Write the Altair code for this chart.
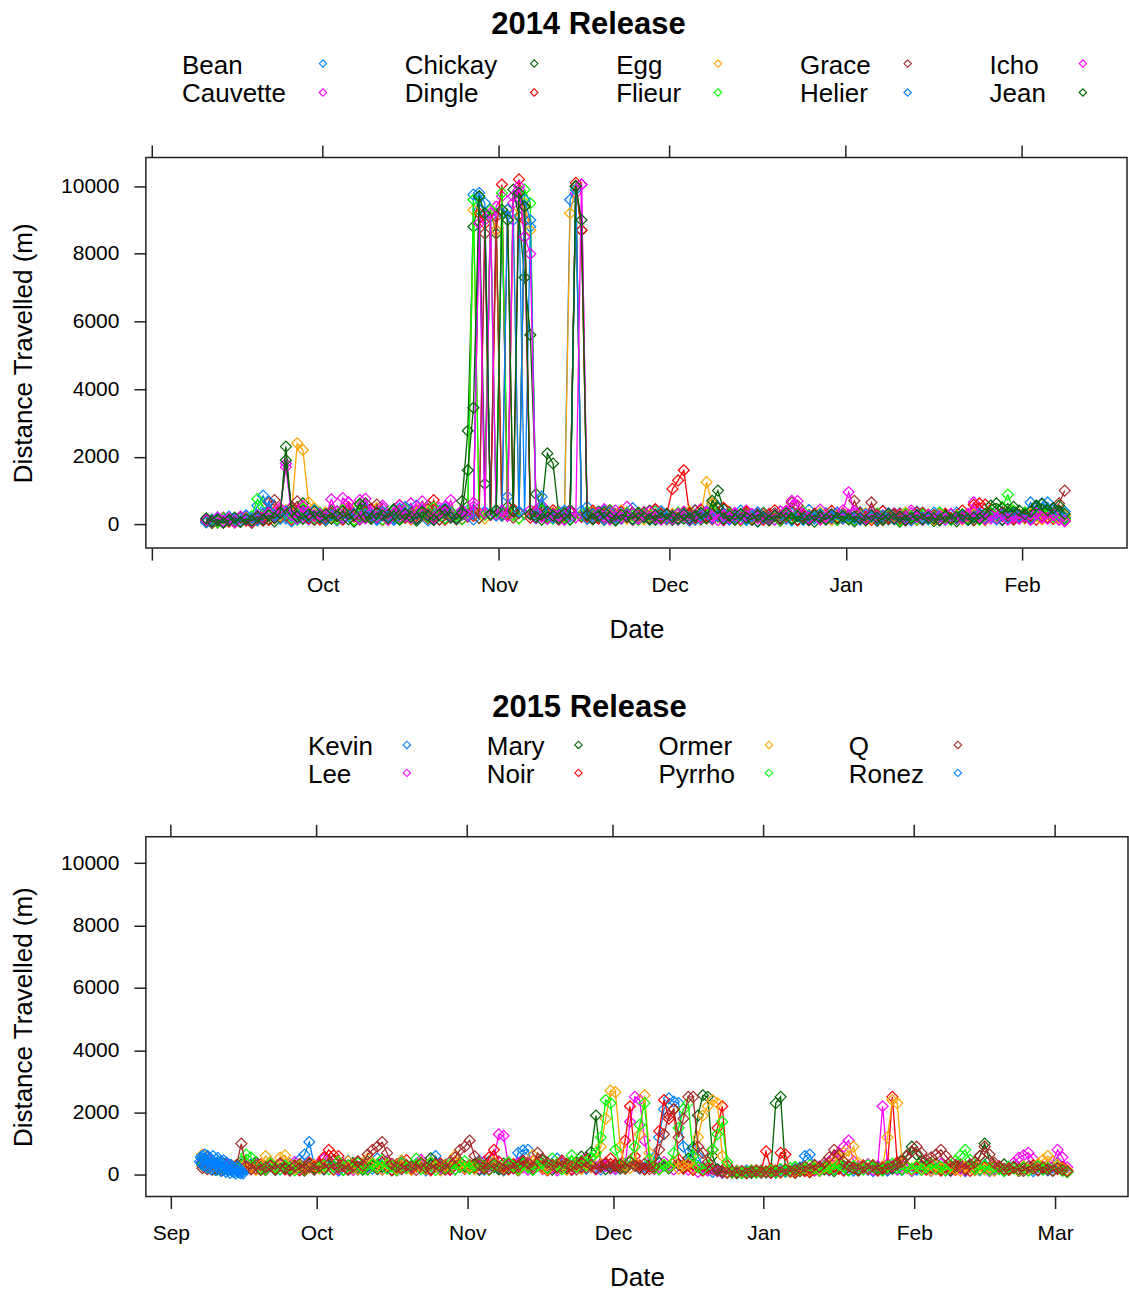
import altair as alt
import pandas as pd

# ---------------- 2014 release: daily distance (m), 2014-09-10 .. 2015-02-08 ----------------
names_2014 = ["Bean", "Cauvette", "Chickay", "Dingle", "Egg", "Flieur", "Grace", "Helier", "Icho", "Jean"]

bean = [120, 60, 210, 90, 150, 70, 180, 240, 130, 560, 850, 420, 310, 260, 180, 90, 350, 280, 150, 420, 230,
        180, 340, 120, 450, 260, 90, 310, 520, 240, 160, 380, 210, 130, 470, 290, 180, 560, 340, 120, 250, 410, 190, 330, 150, 280, 420, 9750, 9300, 380, 9100, 260,
        9200, 820, 410, 9600, 300, 8800, 180, 420, 260, 310, 150, 380, 9600, 10000, 300, 520, 240, 180, 410, 290, 130, 360, 220, 480, 170, 310, 260, 140, 390, 210,
        160, 320, 250, 110, 420, 280, 190, 350, 520, 230, 140, 300, 410, 180, 260, 90, 340, 220, 150, 380, 270, 120, 310, 200, 430, 170, 250, 330, 140, 280, 190,
        240, 130, 360, 210, 290, 170, 400, 150, 260, 330, 120, 220, 380, 190, 270, 110, 300, 240, 160, 350, 200, 130, 280, 420, 180, 250, 310, 150, 220, 380, 260,
        320, 650, 410, 230, 180, 290, 360, 210]
cauvette = [90, 150, 60, 200, 110, 170, 80, 230, 140, 190, 310, 260, 180, 420, 1800, 520, 340, 210, 160, 280, 190,
            330, 210, 150, 780, 640, 290, 720, 180, 410, 250, 560, 130, 340, 220, 470, 620, 190, 380, 260, 150, 490, 310, 720, 180, 420, 260, 530, 350, 9000, 280, 9400,
            9700, 360, 9500, 9900, 8500, 420, 190, 560, 310, 240, 380, 150, 420, 9800, 10050, 270, 340, 180, 450, 230, 310, 160, 520, 280, 190, 360, 240, 410, 170, 300,
            220, 140, 380, 260, 170, 450, 310, 190, 240, 120, 360, 280, 150, 410, 230, 320, 180, 270, 140, 390, 210, 160, 330, 250, 120, 290, 440, 200, 170, 350, 230,
            190, 310, 150, 240, 380, 120, 270, 200, 330, 160, 250, 410, 140, 290, 220, 170, 350, 230, 130, 280, 190, 320, 650, 410, 250, 180, 300, 140, 260, 210, 170,
            240, 130, 310, 180, 420, 260, 150, 90]
chickay = [150, 40, 110, 70, 130, 60, 90, 180, 50, 120, 210, 160, 90, 250, 2300, 340, 180, 620, 290, 140, 230,
           120, 410, 280, 160, 350, 90, 240, 620, 190, 310, 140, 270, 450, 180, 230, 360, 110, 290, 540, 200, 150, 380, 260, 170, 690, 2770, 8800, 9700, 1200, 9300, 8600,
           300, 520, 9900, 9100, 7300, 5600, 900, 450, 2100, 1800, 300, 180, 420, 10000, 8700, 260, 150, 380, 210, 310, 120, 270, 190, 340, 160, 230, 410, 140, 280, 200,
           130, 290, 170, 340, 210, 150, 380, 620, 1000, 450, 180, 260, 120, 310, 200, 90, 240, 170, 330, 110, 260, 190, 140, 300, 220, 80, 270, 160, 210, 130, 250,
           170, 90, 230, 140, 300, 110, 200, 160, 260, 80, 190, 240, 130, 310, 170, 100, 220, 280, 150, 90, 240, 190, 120, 270, 160, 340, 210, 130, 450, 280, 190,
           350, 240, 520, 610, 380, 260, 410, 170]
dingle = [70, 130, 50, 190, 80, 140, 220, 110, 60, 170, 240, 130, 380, 200, 290, 150, 420, 310, 180, 260, 140,
          260, 180, 390, 140, 510, 230, 170, 320, 460, 210, 130, 280, 190, 570, 340, 150, 260, 410, 180, 720, 290, 140, 380, 230, 160, 310, 250, 9200, 8900, 280, 8700,
          10050, 300, 460, 10200, 9000, 200, 380, 250, 170, 420, 290, 140, 360, 10100, 8700, 230, 410, 180, 300, 150, 260, 390, 210, 130, 340, 270, 180, 450, 220, 310,
          1050, 1300, 1600, 300, 180, 420, 260, 150, 330, 490, 210, 140, 280, 370, 190, 250, 130, 310, 420, 170, 240, 350, 120, 280, 190, 320, 150, 260, 400, 210, 170,
          280, 150, 340, 220, 130, 260, 390, 180, 240, 310, 120, 200, 350, 170, 290, 230, 140, 320, 190, 260, 410, 150, 580, 620, 590, 300, 180, 240, 350, 160, 220,
          190, 280, 140, 330, 210, 160, 240, 120]
egg = [100, 60, 170, 90, 210, 130, 80, 190, 150, 240, 120, 310, 180, 260, 420, 340, 2400, 2200, 650, 480, 290,
       350, 210, 170, 440, 280, 130, 360, 250, 190, 480, 320, 150, 270, 400, 210, 160, 340, 520, 230, 180, 310, 440, 260, 150, 370, 230, 9300, 310, 180, 9300, 8700,
       240, 380, 9200, 180, 9500, 8700, 410, 260, 190, 340, 220, 150, 9200, 10000, 290, 180, 360, 240, 130, 300, 210, 420, 170, 260, 330, 150, 280, 200, 370, 240,
       310, 180, 250, 390, 140, 280, 1250, 620, 230, 170, 340, 210, 130, 290, 180, 360, 250, 120, 300, 200, 170, 330, 240, 140, 280, 190, 350, 220, 130, 260, 310,
       200, 140, 270, 330, 180, 240, 120, 290, 210, 160, 350, 230, 150, 280, 190, 130, 310, 220, 170, 260, 140, 240, 300, 180, 120, 270, 210, 350, 160, 230, 290,
       180, 310, 240, 150, 420, 270, 190, 260]
flieur = [80, 140, 60, 180, 120, 90, 210, 160, 250, 750, 520, 380, 240, 170, 310, 200, 140, 460, 280, 190, 350,
          220, 310, 160, 420, 270, 130, 580, 340, 190, 260, 150, 380, 230, 170, 450, 290, 140, 330, 210, 500, 260, 180, 390, 240, 150, 310, 9600, 200, 280, 9300, 350,
          9800, 400, 270, 180, 9900, 9500, 300, 410, 230, 160, 350, 210, 140, 9900, 260, 380, 190, 300, 150, 430, 220, 170, 340, 260, 130, 290, 210, 380, 160, 250,
          180, 350, 220, 140, 300, 260, 170, 410, 230, 150, 320, 190, 260, 130, 280, 210, 340, 160, 240, 120, 300, 190, 260, 380, 150, 220, 310, 170, 240, 130, 280,
          210, 150, 290, 180, 240, 330, 140, 260, 200, 120, 310, 230, 170, 280, 150, 220, 360, 190, 130, 250, 300, 170, 230, 140, 280, 350, 210, 520, 880, 410, 260,
          340, 190, 270, 450, 380, 220, 310, 160]
grace = [110, 70, 160, 50, 140, 90, 200, 130, 60, 180, 110, 640, 720, 380, 260, 490, 680, 310, 220, 150, 280,
         190, 340, 250, 160, 430, 280, 140, 370, 220, 590, 310, 170, 260, 410, 190, 330, 150, 270, 460, 210, 140, 380, 250, 170, 310, 230, 420, 190, 8600, 300, 9100,
         380, 9300, 200, 340, 9400, 290, 420, 250, 180, 310, 140, 270, 390, 10000, 220, 170, 330, 260, 150, 410, 230, 190, 300, 140, 260, 350, 180, 230, 310, 150,
         270, 190, 340, 150, 410, 230, 180, 300, 250, 140, 360, 210, 170, 290, 130, 240, 320, 190, 260, 150, 380, 640, 560, 240, 170, 300, 210, 140, 270, 190, 330,
         240, 700, 330, 180, 650, 290, 150, 220, 310, 170, 260, 130, 240, 350, 190, 280, 140, 230, 300, 160, 210, 270, 130, 320, 190, 250, 170, 360, 220, 140, 280,
         210, 160, 340, 250, 190, 480, 620, 1000]
helier = [60, 120, 180, 80, 230, 150, 100, 270, 190, 130, 320, 680, 250, 170, 390, 280, 160, 340, 230, 410, 200,
          150, 270, 380, 190, 240, 320, 170, 450, 280, 130, 360, 230, 180, 300, 520, 210, 160, 390, 250, 140, 310, 470, 220, 180, 340, 260, 150, 9800, 9500, 300, 420,
          260, 9300, 9000, 380, 9600, 9000, 290, 820, 350, 190, 270, 410, 230, 9900, 400, 170, 300, 250, 140, 360, 210, 180, 290, 150, 330, 220, 140, 270, 380, 190,
          230, 150, 310, 200, 140, 270, 380, 180, 250, 330, 160, 220, 290, 130, 240, 360, 190, 150, 280, 210, 170, 320, 240, 130, 260, 190, 300, 150, 230, 350, 180,
          260, 180, 140, 300, 220, 170, 260, 330, 150, 240, 190, 120, 280, 210, 160, 350, 230, 140, 290, 180, 260, 130, 220, 310, 170, 240, 150, 280, 200, 330, 240,
          280, 190, 350, 620, 650, 420, 260, 380]
icho = [140, 80, 200, 110, 170, 60, 230, 150, 90, 260, 180, 330, 210, 480, 1700, 290, 180, 540, 360, 240, 310,
        260, 740, 380, 210, 650, 290, 170, 760, 340, 220, 480, 150, 310, 560, 240, 190, 420, 680, 260, 170, 340, 530, 210, 160, 390, 270, 640, 8900, 330, 9200, 300,
        410, 250, 9700, 10000, 8500, 8000, 360, 220, 170, 300, 250, 140, 380, 210, 10050, 290, 180, 340, 230, 150, 410, 190, 270, 320, 160, 240, 380, 210, 140, 290,
        170, 310, 240, 150, 280, 200, 360, 230, 130, 270, 190, 340, 160, 250, 310, 180, 230, 140, 290, 210, 400, 700, 690, 320, 180, 260, 150, 230, 300, 170, 420,
        950, 380, 210, 160, 290, 230, 140, 310, 190, 250, 170, 330, 220, 130, 270, 190, 240, 150, 310, 200, 170, 280, 360, 230, 150, 260, 190, 320, 140, 230, 180,
        260, 150, 330, 220, 170, 290, 140, 110]
jean = [180, 90, 140, 50, 120, 200, 70, 160, 110, 230, 150, 270, 190, 340, 1900, 410, 230, 160, 290, 380, 210,
        300, 170, 240, 390, 150, 280, 610, 220, 160, 340, 270, 190, 420, 140, 310, 230, 180, 370, 250, 130, 290, 430, 200, 160, 350, 1600, 3450, 9700, 9200, 300, 420,
        9300, 9000, 400, 9800, 9400, 310, 220, 140, 380, 260, 190, 330, 150, 10000, 9000, 280, 170, 240, 360, 200, 130, 290, 230, 170, 340, 210, 150, 270, 190, 310,
        220, 160, 290, 180, 250, 340, 200, 700, 480, 170, 260, 140, 310, 200, 150, 280, 230, 120, 260, 190, 330, 160, 240, 180, 130, 270, 210, 150, 300, 180, 240,
        150, 230, 180, 120, 260, 200, 140, 310, 170, 230, 130, 190, 270, 150, 210, 180, 120, 250, 160, 220, 290, 140, 200, 170, 310, 560, 620, 480, 350, 520, 410,
        300, 380, 560, 600, 420, 480, 550, 310]
series_2014 = [bean, cauvette, chickay, dingle, egg, flieur, grace, helier, icho, jean]

# ---------------- 2015 release: daily distance (m), 2015-09-07 .. 2016-03-03 ----------------
names_2015 = ["Kevin", "Lee", "Mary", "Noir", "Ormer", "Pyrrho", "Q", "Ronez"]

kevin = [520, 610, 430, 380, 250, 310, 180, 220, 140, 260, 330, 190, 280, 150, 410, 230, 170, 300, 360, 210, 480, 650, 1050, 320,
         240, 170, 390, 260, 130, 300, 450, 210, 160, 340, 270, 190, 520, 380, 230, 150, 310, 420, 260, 180, 350, 240, 140, 290, 600, 330, 210, 170, 400, 260, 190,
         310, 220, 450, 160, 280, 380, 200, 140, 350, 260, 700, 780, 800, 180, 420, 250, 160, 330, 520, 230, 280, 150, 410, 260, 190, 360, 240, 170, 300, 210,
         180, 260, 350, 420, 300, 190, 240, 310, 560, 1200, 2100, 2450, 2350, 2300, 900, 420, 800, 600, 230, 140, 90, 120, 60, 80, 110, 50, 90, 130, 70, 100, 60,
         80, 120, 60, 150, 90, 110, 180, 240, 600, 650, 310, 180, 250, 140, 200, 330, 170, 260, 130, 220, 290, 160, 110, 240, 180, 130, 270, 190, 150, 230, 120,
         160, 250, 190, 120, 300, 210, 140, 280, 170, 230, 110, 260, 190, 140, 320, 200, 150, 240, 120, 180, 270, 130, 210, 160, 110, 250, 180, 140, 230,
         380, 210, 120]
lee = [430, 560, 310, 280, 190, 350, 240, 160, 420, 290, 180, 380, 270, 150, 340, 220, 300, 190, 260, 410, 170, 230, 310, 200,
       380, 500, 460, 290, 180, 350, 270, 150, 410, 230, 190, 330, 260, 170, 450, 280, 140, 360, 220, 190, 310, 480, 250, 160, 340, 210, 280, 150, 390, 240, 180,
       260, 340, 190, 420, 280, 530, 1300, 1250, 310, 200, 370, 240, 160, 450, 290, 180, 330, 230, 140, 380, 260, 190, 310, 420, 560, 240, 170, 350, 280, 210,
       190, 330, 260, 1700, 2500, 2400, 1100, 300, 180, 240, 410, 280, 170, 350, 220, 160, 300, 90, 230, 140, 180, 110, 70, 100, 60, 130, 80, 50, 110, 90, 70,
       90, 60, 120, 80, 140, 100, 70, 160, 220, 180, 130, 260, 300, 420, 560, 700, 900, 1100, 430, 280, 190, 340, 150, 280, 2200, 350, 240, 160, 300, 210, 130,
       240, 160, 290, 130, 210, 350, 180, 120, 260, 190, 140, 310, 220, 170, 250, 110, 200, 280, 150, 230, 380, 540, 620, 700, 500, 260, 180, 310, 420,
       800, 560, 240]
mary = [380, 250, 310, 160, 420, 200, 280, 140, 330, 190, 260, 410, 170, 230, 300, 150, 360, 220, 180, 290, 240, 130, 350, 210,
        270, 180, 340, 460, 230, 150, 300, 380, 210, 160, 420, 290, 180, 250, 340, 140, 310, 450, 220, 170, 280, 360, 190, 530, 260, 150, 320, 240, 180, 410, 270,
        200, 330, 150, 280, 420, 240, 170, 360, 210, 290, 140, 380, 250, 180, 310, 460, 220, 160, 340, 270, 200, 430, 300, 580, 350, 720, 1900, 280, 180, 240,
        310, 190, 260, 420, 350, 230, 170, 300, 250, 380, 290, 200, 410, 330, 260, 520, 880, 1900, 2550, 2500, 600, 180, 120, 70, 90, 50, 110, 80, 60, 100, 130,
        70, 120, 2300, 2500, 140, 90, 60, 110, 150, 80, 200, 130, 170, 240, 110, 190, 280, 150, 220, 130, 260, 180, 300, 210, 140, 250, 190, 330, 480, 620, 900,
        640, 420, 300, 210, 350, 180, 260, 140, 230, 310, 170, 280, 200, 600, 1000, 450, 260, 190, 330, 150, 240, 120, 200, 160, 290, 140, 220, 180, 130,
        210, 150, 90]
noir = [290, 180, 350, 230, 140, 270, 200, 310, 160, 380, 240, 190, 330, 150, 280, 210, 360, 170, 250, 300, 140, 220, 390, 260,
        340, 560, 800, 620, 600, 280, 190, 320, 430, 250, 170, 360, 220, 400, 290, 150, 330, 240, 470, 180, 260, 390, 210, 140, 300, 360, 230, 170, 420, 280, 200,
        310, 240, 380, 190, 560, 800, 420, 260, 170, 340, 230, 450, 290, 180, 360, 250, 140, 310, 220, 400, 270, 160, 350, 230, 480, 300, 190, 260, 380, 520,
        340, 260, 1100, 2200, 600, 300, 180, 260, 210, 1400, 2400, 1800, 2100, 500, 190, 280, 150, 240, 130, 220, 800, 1500, 2200, 300, 80, 110, 60, 90, 140, 70, 120,
        750, 180, 120, 700, 650, 100, 80, 140, 110, 90, 170, 130, 220, 160, 250, 190, 130, 280, 210, 160, 300, 180, 240, 130, 200, 280, 2500, 400, 190, 250, 170,
        220, 300, 160, 240, 180, 130, 270, 200, 150, 330, 190, 120, 260, 180, 230, 150, 280, 210, 140, 190, 250, 130, 220, 170, 300, 150, 240, 190, 130,
        180, 240, 110]
ormer = [650, 480, 320, 270, 180, 240, 310, 190, 260, 350, 220, 150, 300, 600, 400, 250, 550, 620, 340, 200, 280, 170, 230, 310,
         190, 270, 360, 150, 240, 310, 430, 200, 170, 290, 520, 380, 230, 160, 340, 270, 190, 450, 210, 150, 320, 250, 180, 410, 280, 140, 300, 230, 620, 350, 200,
         260, 180, 330, 240, 150, 410, 280, 190, 350, 230, 160, 300, 250, 630, 380, 210, 170, 290, 340, 200, 150, 420, 270, 180, 360, 230, 500, 900, 1800, 2700,
         2650, 900, 300, 210, 380, 1300, 2550, 700, 250, 180, 320, 240, 410, 190, 280, 360, 220, 1200, 1900, 2200, 2400, 2300, 600, 90, 60, 120, 80, 50, 100, 140, 70,
         110, 80, 130, 60, 150, 90, 120, 170, 210, 140, 260, 180, 230, 300, 420, 550, 700, 600, 900, 380, 250, 190, 310, 170, 260, 1200, 2400, 2300, 400, 220, 160,
         280, 190, 240, 130, 310, 210, 160, 270, 180, 120, 250, 200, 140, 300, 170, 230, 120, 260, 190, 150, 210, 140, 280, 170, 220, 350, 480, 600, 420,
         310, 200, 150]
pyrrho = [310, 220, 170, 380, 250, 190, 140, 280, 420, 650, 560, 300, 210, 160, 350, 240, 180, 290, 230, 140, 330, 200, 260, 170,
          240, 310, 180, 260, 420, 150, 290, 230, 370, 200, 160, 330, 250, 480, 190, 270, 140, 360, 220, 300, 510, 180, 240, 390, 150, 280, 210, 340, 170, 250, 430,
          190, 280, 350, 220, 160, 310, 240, 170, 400, 260, 190, 330, 230, 150, 290, 370, 210, 520, 270, 180, 340, 620, 250, 450, 300, 560, 700, 1200, 2400, 2300,
          800, 300, 200, 450, 900, 1600, 2300, 500, 220, 170, 310, 260, 700, 1500, 2100, 2300, 600, 250, 180, 300, 800, 1300, 1700, 400, 70, 110, 50, 90, 130, 60, 100,
          90, 140, 70, 180, 120, 210, 250, 160, 230, 300, 190, 140, 270, 220, 170, 320, 240, 130, 280, 200, 160, 310, 230, 180, 140, 260, 350, 210, 170, 240, 190,
          280, 150, 230, 350, 190, 260, 140, 300, 450, 620, 800, 480, 210, 170, 290, 140, 230, 180, 120, 260, 200, 150, 240, 130, 190, 280, 160, 220, 140,
          230, 120, 80]
q_fish = [210, 330, 160, 270, 140, 380, 220, 300, 1000, 250, 180, 310, 150, 240, 290, 170, 360, 200, 130, 270, 340, 190, 250, 160,
          280, 200, 350, 170, 240, 320, 150, 260, 420, 300, 650, 800, 900, 1050, 700, 350, 240, 180, 310, 260, 150, 380, 230, 190, 340, 270, 160, 420, 550, 800, 900,
          1100, 600, 310, 220, 180, 360, 250, 170, 330, 210, 290, 450, 380, 260, 700, 520, 390, 310, 240, 460, 350, 280, 170, 400, 230, 310, 190, 260, 350, 220,
          260, 330, 190, 410, 280, 220, 350, 180, 260, 800, 1300, 1900, 2100, 1200, 1800, 2500, 2500, 900, 700, 400, 180, 130, 90, 60, 110, 70, 120, 50, 90, 140, 80,
          100, 60, 130, 80, 170, 110, 150, 200, 260, 180, 310, 240, 380, 560, 800, 650, 420, 290, 210, 170, 250, 190, 300, 150, 230, 180, 260, 350, 420, 600, 750,
          900, 700, 480, 560, 650, 800, 600, 420, 310, 250, 190, 330, 400, 600, 900, 650, 380, 260, 190, 150, 230, 180, 120, 260, 200, 150, 240, 170, 130,
          210, 160, 110]
# Ronez: 4-hourly fixes from 2015-09-07 00:00
ronez = [420, 560, 380, 610, 290, 500, 650, 340, 470, 220, 580, 400, 310, 520, 180, 450, 600, 260,
         380, 150, 490, 270, 540, 330, 200, 410, 120, 350, 240, 460, 170, 290, 90, 380, 210, 140,
         250, 60, 320, 180, 110, 230, 80, 190, 40, 150, 260, 120, 70, 180, 50, 130, 90, 40]
series_2015 = [kevin, lee, mary, noir, ormer, pyrrho, q_fish]

# month-start tick positions (year, month)
ticks_2014_ym = [(2014, 9), (2014, 10), (2014, 11), (2014, 12), (2015, 1), (2015, 2)]
ticks_2015_ym = [(2015, 9), (2015, 10), (2015, 11), (2015, 12), (2016, 1), (2016, 2), (2016, 3)]
y_ticks = [0, 2000, 4000, 6000, 8000, 10000]

# ---------------- styling ----------------
FONT = "Liberation Sans"
lattice_cols = ["#0080ff", "#ff00ff", "#006400", "#ff0000", "#ffa500", "#00ff00", "#a52a2a"]
cols_2014 = [lattice_cols[i % 7] for i in range(len(names_2014))]
cols_2015 = [lattice_cols[i % 7] for i in range(len(names_2015))]
INK = "#222222"

char_w = {" ": 278, "B": 667, "C": 722, "D": 722, "E": 667, "F": 611, "G": 778, "H": 722, "I": 278,
          "J": 500, "K": 667, "L": 556, "M": 833, "N": 722, "O": 778, "P": 667, "Q": 778, "R": 722,
          "a": 556, "c": 500, "e": 556, "g": 556, "h": 556, "i": 222, "k": 500, "l": 222, "m": 833,
          "n": 556, "o": 556, "r": 333, "s": 500, "t": 278, "u": 556, "v": 500, "y": 500, "z": 500}


def text_w(s, size):
    return sum(char_w.get(c, 556) for c in s) / 1000.0 * size


def frames(start, freq, names, series):
    out = []
    for n, vals in zip(names, series):
        d = pd.date_range(start, periods=len(vals), freq=freq)
        out.append(pd.DataFrame({"date": d, "name": n, "dist": vals}))
    return out


def panel(series_frames, names, colors, width, height, x_dom, tick_ym, hide_sep,
          title, title_x, title_y, row_y, gap1, gap2):
    cscale = alt.Scale(domain=names, range=colors)
    xs = alt.Scale(domain=x_dom)
    ys = alt.Scale(domain=[-700, 10850], nice=False, zero=False)
    tick_vals = [alt.DateTime(year=y, month=m, date=1) for y, m in tick_ym]
    if hide_sep:
        lexpr = "month(datum.value) == 8 ? '' : timeFormat(datum.value, '%b')"
    else:
        lexpr = "timeFormat(datum.value, '%b')"
    x_axis = alt.Axis(orient="bottom", values=tick_vals, labelExpr=lexpr, title="Date", tickSize=12,
                      labelPadding=14, titlePadding=21, labelFontSize=21, titleFontSize=26,
                      titleFontWeight="normal", grid=False, domain=False, labelFlush=False,
                      labelOverlap=False)
    y_axis = alt.Axis(orient="left", values=y_ticks, format="d",
                      title="Distance Travelled (m)", tickSize=12, labelPadding=15, titlePadding=24,
                      labelFontSize=21, titleFontSize=26, titleFontWeight="normal", grid=False,
                      domain=False, labelFlush=False)
    cenc = alt.Color("name:N", scale=cscale, legend=None)

    layers = []
    for fr in series_frames:
        base = alt.Chart(fr)
        enc = dict(x=alt.X("date:T", scale=xs, axis=x_axis),
                   y=alt.Y("dist:Q", scale=ys, axis=y_axis),
                   color=cenc)
        layers.append(base.mark_line(strokeWidth=1.3).encode(**enc))
        layers.append(base.mark_point(shape="diamond", filled=False, size=120,
                                      strokeWidth=1.2, opacity=1).encode(**enc))

    # lattice-style ticks on the top edge of the box (same month positions)
    tick_df = pd.DataFrame({"date": [pd.Timestamp(year=y, month=m, day=1) for y, m in tick_ym]})
    layers.append(alt.Chart(tick_df).mark_rule(color=INK, strokeWidth=1.5).encode(
        x=alt.X("date:T", scale=xs, axis=x_axis), y=alt.value(-12), y2=alt.value(0)))

    # key: text then symbol, 2 rows, columns left to right, centred on the panel
    ncol = (len(names) + 1) // 2
    cols = [names[2 * i:2 * i + 2] for i in range(ncol)]
    widths = [max(text_w(n, 26) for n in c) for c in cols]
    tx, sx = [], []
    pos = 0.0
    for w in widths:
        tx.append(pos)
        sx.append(pos + w + gap1)
        pos = pos + w + gap1 + gap2
    total = sx[-1] + 8
    start = width / 2.0 - total / 2.0
    for ci, c in enumerate(cols):
        for ri, n in enumerate(c):
            one = alt.Chart(pd.DataFrame({"name": [n]}))
            layers.append(one.mark_text(align="left", baseline="middle", fontSize=26, font=FONT,
                                        color="black", text=n).encode(
                x=alt.value(start + tx[ci]), y=alt.value(row_y[ri])))
            layers.append(one.mark_point(shape="diamond", filled=False, size=55, strokeWidth=1.1,
                                         opacity=1).encode(
                x=alt.value(start + sx[ci]), y=alt.value(row_y[ri] - 2), color=cenc))
    layers.append(alt.Chart(pd.DataFrame({"t": [title]})).mark_text(
        fontSize=31, fontWeight="bold", align="center", baseline="middle", font=FONT,
        color="black", text=title).encode(x=alt.value(title_x), y=alt.value(title_y)))
    return alt.layer(*layers).properties(width=width, height=height)


fr_2014 = frames("2014-09-10 12:00", "D", names_2014, series_2014)
fr_2015 = frames("2015-09-07 12:00", "D", names_2015[:-1], series_2015)
fr_2015 += frames("2015-09-07 00:00", "4h", names_2015[-1:], [ronez])

p1 = panel(fr_2014, names_2014, cols_2014, 982, 391,
           [alt.DateTime(year=2014, month=8, date=30, hours=21),
            alt.DateTime(year=2015, month=2, date=19, hours=11)],
           ticks_2014_ym, True, "2014 Release", 443, -133, [-92, -63], 37, 82)
p2 = panel(fr_2015, names_2015, cols_2015, 983, 360,
           [alt.DateTime(year=2015, month=8, date=26, hours=20, minutes=40),
            alt.DateTime(year=2016, month=3, date=16)],
           ticks_2015_ym, False, "2015 Release", 444, -129, [-90, -62], 34, 80)

chart = alt.vconcat(p1, p2, spacing=48).properties(
    padding={"left": 9, "top": 7, "right": 0, "bottom": 0}
).configure(font=FONT).configure_view(
    stroke=INK, strokeWidth=1.5
).configure_axis(
    tickColor=INK, tickWidth=1.5, labelColor="black", titleColor="black",
    labelFont=FONT, titleFont=FONT
)

chart.save("out.html", embed_options={"renderer": "svg", "actions": False})
